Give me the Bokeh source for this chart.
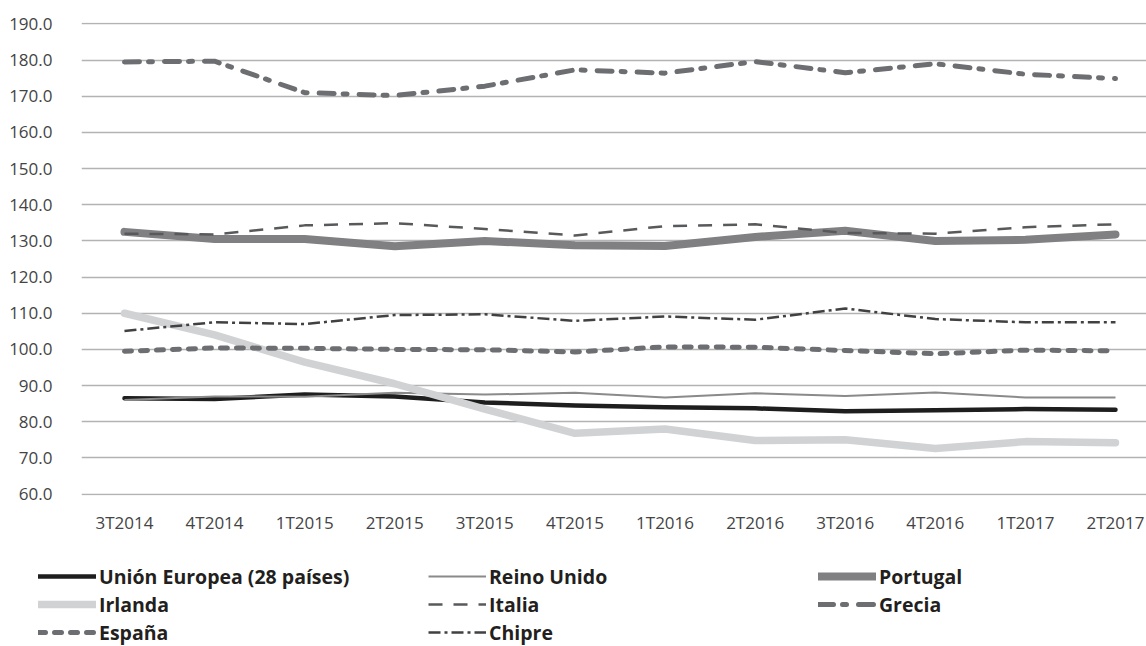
from bokeh.plotting import figure
from bokeh.models import Legend, LegendItem, FixedTicker, NumeralTickFormatter, Range1d
from bokeh.embed import file_html
from bokeh.resources import INLINE

quarters = ["3T2014", "4T2014", "1T2015", "2T2015", "3T2015", "4T2015",
            "1T2016", "2T2016", "3T2016", "4T2016", "1T2017", "2T2017"]

ue = [86.5, 86.3, 87.5, 87.0, 85.3, 84.5, 84.0, 83.7, 82.9, 83.2, 83.5, 83.3]
reino_unido = [86.0, 87.0, 86.9, 88.0, 87.5, 88.0, 86.7, 87.9, 87.1, 88.1, 86.7, 86.7]
portugal = [132.5, 130.5, 130.5, 128.5, 130.0, 128.8, 128.6, 131.1, 132.8, 130.0, 130.3, 131.8]
irlanda = [110.0, 104.0, 96.5, 90.5, 83.5, 76.8, 78.0, 74.8, 75.0, 72.6, 74.5, 74.2]
italia = [132.0, 131.8, 134.3, 134.9, 133.3, 131.5, 134.1, 134.6, 132.2, 132.0, 133.8, 134.6]
grecia = [179.5, 179.7, 171.0, 170.2, 172.8, 177.3, 176.4, 179.6, 176.5, 179.0, 176.1, 174.9]
espana = [99.5, 100.4, 100.3, 100.0, 99.9, 99.3, 100.7, 100.6, 99.7, 98.8, 99.8, 99.6]
chipre = [105.1, 107.5, 107.0, 109.5, 109.7, 107.9, 109.1, 108.2, 111.3, 108.4, 107.5, 107.5]

y_ticks = [60, 70, 80, 90, 100, 110, 120, 130, 140, 150, 160, 170, 180, 190]

series = [
    ("Unión Europea (28 países)", ue),
    ("Reino Unido", reino_unido),
    ("Portugal", portugal),
    ("Irlanda", irlanda),
    ("Italia", italia),
    ("Grecia", grecia),
    ("España", espana),
    ("Chipre", chipre),
]

styles = {
    "Unión Europea (28 países)": dict(line_color="#1e1e1e", line_width=4.5, line_cap="round"),
    "Reino Unido": dict(line_color="#8a8a8a", line_width=2),
    "Portugal": dict(line_color="#808083", line_width=8, line_cap="round"),
    "Irlanda": dict(line_color="#d1d2d4", line_width=7.5, line_cap="round"),
    "Italia": dict(line_color="#58595b", line_width=2.5, line_dash="14 11"),
    "Grecia": dict(line_color="#6d6e71", line_width=5, line_dash="15 9 4 12", line_cap="round"),
    "España": dict(line_color="#6d6e71", line_width=5, line_dash="7 9", line_cap="round"),
    "Chipre": dict(line_color="#414042", line_width=2.5, line_dash="12 4 3 4"),
}

x = list(range(len(quarters)))

p = figure(width=1146, height=548, output_backend="svg", toolbar_location=None,
           x_range=Range1d(-0.477, 11.344), y_range=Range1d(59.6, 190.4),
           min_border_left=81, min_border_right=0, min_border_top=22, min_border_bottom=53)
p.outline_line_color = None
p.background_fill_color = "white"
p.border_fill_color = "white"

p.xgrid.grid_line_color = None
p.ygrid.grid_line_color = "#b3b3b3"
p.ygrid.grid_line_width = 1.5
p.yaxis.ticker = FixedTicker(ticks=y_ticks)
p.xaxis.ticker = FixedTicker(ticks=x)
p.xaxis.major_label_overrides = {i: q for i, q in enumerate(quarters)}
p.yaxis.formatter = NumeralTickFormatter(format="0.0")
for ax in (p.xaxis, p.yaxis):
    ax.axis_line_color = None
    ax.major_tick_line_color = None
    ax.major_tick_out = 0
    ax.major_tick_in = 0
    ax.minor_tick_line_color = None
    ax.minor_tick_out = 0
    ax.major_label_text_font = "Open Sans"
    ax.major_label_text_font_size = "17px"
    ax.major_label_text_color = "#444444"
p.yaxis.major_label_standoff = 29
p.xaxis.major_label_standoff = 15

for name, vals in series:
    p.line(x, vals, line_join="round", **styles[name])

# Legend panel below the chart (its lines use the same data, outside the view range)
lf = figure(width=1146, height=98, output_backend="svg", toolbar_location=None,
            x_range=Range1d(-0.477, 11.344), y_range=Range1d(1000, 1001),
            x_axis_location=None, y_axis_location=None,
            min_border_left=0, min_border_right=0, min_border_top=0, min_border_bottom=0)
lf.outline_line_color = None
lf.grid.visible = False

legend_renderers = {}
for name, vals in series:
    legend_renderers[name] = lf.line(x, vals, line_join="round", **styles[name])

columns_def = [
    (["Unión Europea (28 países)", "Irlanda", "España"], (38, 0)),
    (["Reino Unido", "Italia", "Chipre"], (428, 0)),
    (["Portugal", "Grecia"], (818, 28)),
]
for names, loc in columns_def:
    leg = Legend(items=[LegendItem(label=n, renderers=[legend_renderers[n]]) for n in names],
                 location=loc, orientation="vertical")
    leg.label_text_font = "Open Sans"
    leg.label_text_font_style = "bold"
    leg.label_text_font_size = "19.5px"
    leg.label_text_color = "#231f20"
    leg.glyph_width = 58
    leg.glyph_height = 28
    leg.label_height = 28
    leg.label_standoff = 3
    leg.spacing = 0
    leg.padding = 0
    leg.margin = 0
    leg.border_line_color = None
    leg.background_fill_alpha = 0
    lf.add_layout(leg)

open("out.html", "w").write(file_html([p, lf], INLINE))
